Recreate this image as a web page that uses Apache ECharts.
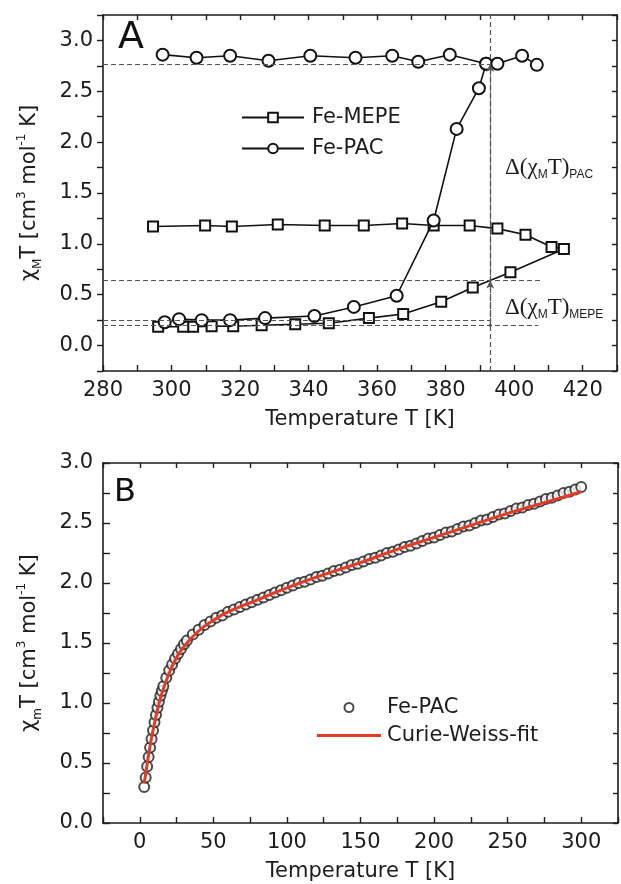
<!DOCTYPE html>
<html>
<head>
<meta charset="utf-8">
<script src="https://cdn.jsdelivr.net/npm/echarts@6/dist/echarts.min.js"></script>
<style>
html, body { margin: 0; padding: 0; background: #fff; }
#chart { width: 621px; height: 884px; }
</style>
</head>
<body>
<div id="chart"></div>
<script>
// ---- panel A : chi_M T vs T, heating/cooling runs ----
var mepeT   = [294.6, 309.8, 317.6, 331.0, 344.7, 356.1, 367.3, 376.5, 387.0, 395.1, 403.3, 410.9, 414.5,
               398.9, 387.9, 378.7, 367.6, 357.6, 345.9, 336.1, 326.3, 318.0, 311.7, 306.3, 303.4, 296.1];
var mepeChi = [1.17, 1.18, 1.17, 1.19, 1.18, 1.18, 1.20, 1.18, 1.18, 1.15, 1.09, 0.97, 0.95,
               0.72, 0.57, 0.43, 0.31, 0.27, 0.22, 0.21, 0.20, 0.19, 0.19, 0.185, 0.185, 0.185];

var pacRiseT   = [298.0, 302.2, 308.8, 317.1, 327.3, 341.7, 353.2, 365.7, 376.5, 383.2, 389.7, 391.8];
var pacRiseChi = [0.23, 0.26, 0.25, 0.25, 0.27, 0.29, 0.38, 0.49, 1.23, 2.13, 2.53, 2.77];

var pacTopT   = [297.4, 307.3, 317.1, 328.3, 340.5, 353.7, 364.4, 372.0, 381.2, 391.8, 395.1, 402.3, 406.6];
var pacTopChi = [2.86, 2.83, 2.85, 2.80, 2.85, 2.83, 2.85, 2.79, 2.86, 2.77, 2.77, 2.85, 2.76];

// dashed guide lines (level, end temperature) and transition temperature
var guideLevels = [2.77, 0.64, 0.25, 0.20];
var guideEnds   = [393, 408, 393, 407];
var transT = 393;

// ---- panel B : Fe-PAC low temperature data + Curie-Weiss fit ----
var lowT = [3, 4, 5, 6, 7, 8, 9, 10, 11, 12, 13, 14, 15, 16, 18, 20, 22, 24, 26, 28, 30, 32, 36, 40, 44, 48,
            52, 56, 60, 64, 68, 72, 76, 80, 84, 88, 92, 96, 100, 104, 108, 112, 116, 120, 124, 128, 132,
            136, 140, 144, 148, 152, 156, 160, 164, 168, 172, 176, 180, 184, 188, 192, 196, 200, 204,
            208, 212, 216, 220, 224, 228, 232, 236, 240, 244, 248, 252, 256, 260, 264, 268, 272, 276,
            280, 284, 288, 292, 296, 300];
var lowChi = [0.30, 0.38, 0.47, 0.55, 0.63, 0.70, 0.77, 0.84, 0.90, 0.96, 1.01, 1.06, 1.10, 1.14, 1.21, 1.27,
              1.32, 1.37, 1.41, 1.45, 1.49, 1.52, 1.57, 1.61, 1.65, 1.68, 1.71, 1.73, 1.76, 1.78, 1.80,
              1.82, 1.84, 1.86, 1.88, 1.90, 1.92, 1.94, 1.96, 1.98, 2.00, 2.01, 2.03, 2.05, 2.06, 2.08,
              2.10, 2.11, 2.13, 2.15, 2.16, 2.18, 2.20, 2.21, 2.23, 2.25, 2.26, 2.28, 2.30, 2.31, 2.33,
              2.35, 2.37, 2.38, 2.40, 2.42, 2.43, 2.45, 2.47, 2.48, 2.50, 2.52, 2.53, 2.55, 2.57, 2.58,
              2.60, 2.62, 2.63, 2.65, 2.66, 2.68, 2.70, 2.71, 2.73, 2.75, 2.76, 2.78, 2.80];

var fitT   = [3, 4, 5, 6, 8, 10, 12, 15, 20, 25, 30, 40, 50, 60, 80, 100, 125, 150, 175, 200, 225, 250, 275, 300];
var fitChi = [0.33, 0.41, 0.49, 0.57, 0.71, 0.83, 0.94, 1.08, 1.25, 1.38, 1.47, 1.60, 1.69, 1.76, 1.86,
              1.96, 2.07, 2.17, 2.28, 2.38, 2.48, 2.58, 2.67, 2.76];

function zip(xs, ys) {
    var out = [];
    for (var i = 0; i < xs.length; i++) out.push([xs[i], ys[i]]);
    return out;
}

var FONT = 'DejaVu Sans';
var INK = '#1c1c1c';
var RED = '#e23b26';

function showEvery(step, lo, hi, digits) {
    return function (v) {
        var k = v / step;
        if (Math.abs(k - Math.round(k)) > 1e-6 || v < lo - 1e-6 || v > hi + 1e-6) return '';
        return digits ? v.toFixed(digits) : String(Math.round(v));
    };
}

function frameAxis(extra) {
    var a = {
        type: 'value',
        axisLine: { show: true, onZero: false, lineStyle: { color: INK, width: 1.6 } },
        axisTick: { show: true, inside: true, length: 5, lineStyle: { color: INK, width: 1.4 } },
        axisLabel: { show: false },
        splitLine: { show: false }
    };
    for (var k in extra) a[k] = extra[k];
    return a;
}

var yNameRich = {
    t:  { fontFamily: FONT, fontSize: 21, color: INK, lineHeight: 28, verticalAlign: 'middle' },
    sp: { fontFamily: FONT, fontSize: 12, color: INK, lineHeight: 12, verticalAlign: 'top' },
    sb: { fontFamily: FONT, fontSize: 12, color: INK, lineHeight: 12, verticalAlign: 'bottom' }
};

var annoRich = {
    a: { fontFamily: 'Liberation Serif', fontSize: 23, fill: INK, lineHeight: 27, verticalAlign: 'middle' },
    s: { fontFamily: 'Liberation Sans', fontSize: 12, fill: INK, lineHeight: 12, verticalAlign: 'bottom' }
};

var labelStyle = { fontFamily: FONT, fontSize: 21, color: INK };

var guideData = [];
for (var i = 0; i < guideLevels.length; i++) {
    guideData.push([{ coord: [280, guideLevels[i]] }, { coord: [guideEnds[i], guideLevels[i]] }]);
}
guideData.push([{ coord: [transT, -0.25] }, { coord: [transT, 3.25] }]);
// arrows marking the two spin-transition steps
guideData.push([{ coord: [transT, guideLevels[3]], symbol: 'circle', symbolSize: 3 },
                { coord: [transT, guideLevels[1]], symbol: 'arrow', symbolSize: [6, 8] }]);
guideData.push([{ coord: [transT, guideLevels[1]], symbol: 'none' },
                { coord: [transT, guideLevels[0]], symbol: 'arrow', symbolSize: [6, 8] }]);

var chart = echarts.init(document.getElementById('chart'));
var option = {
    animation: false,
    grid: [
        { left: 103, top: 15, width: 514, height: 356 },
        { left: 103, top: 463, width: 521, height: 360 }
    ],
    legend: [{
        data: ['Fe-MEPE', 'Fe-PAC'],
        orient: 'vertical',
        left: 236, top: 102,
        itemWidth: 62, itemHeight: 12, itemGap: 10,
        selectedMode: false,
        textStyle: { fontFamily: FONT, fontSize: 21, color: INK, padding: [0, 0, 0, 3] }
    }, {
        data: ['Fe-PAC_B', { name: 'Curie-Weiss-fit', icon: 'path://M0,0 L64,0 L64,3 L0,3 Z' }],
        orient: 'vertical',
        left: 312, top: 692,
        itemWidth: 64, itemHeight: 9, itemGap: 7,
        selectedMode: false,
        formatter: function (n) { return n.replace('_B', ''); },
        textStyle: { fontFamily: FONT, fontSize: 21, color: INK, padding: [0, 0, 0, 1] }
    }],
    xAxis: [
        frameAxis({
            gridIndex: 0, min: 280, max: 430, interval: 10,
            axisTick: { show: true, inside: true, length: 6, lineStyle: { color: INK, width: 1.4 } },
            axisLabel: { show: true, margin: 9, formatter: showEvery(20, 280, 420, 0),
                         fontFamily: FONT, fontSize: 21, color: INK },
            name: 'Temperature T [K]', nameLocation: 'middle', nameGap: 38, nameTextStyle: labelStyle
        }),
        frameAxis({ gridIndex: 0, position: 'top', min: 280, max: 430, interval: 10 }),
        frameAxis({
            gridIndex: 1, min: -25, max: 325, interval: 25,
            axisTick: { show: true, inside: true, length: 6, lineStyle: { color: INK, width: 1.4 } },
            axisLabel: { show: true, margin: 9, formatter: showEvery(50, 0, 300, 0),
                         fontFamily: FONT, fontSize: 21, color: INK },
            name: 'Temperature T [K]', nameLocation: 'middle', nameGap: 38, nameTextStyle: labelStyle
        }),
        frameAxis({ gridIndex: 1, position: 'top', min: -25, max: 325, interval: 25 })
    ],
    yAxis: [
        frameAxis({
            gridIndex: 0, min: -0.25, max: 3.25, interval: 0.25,
            axisTick: { show: true, inside: false, length: 6, lineStyle: { color: INK, width: 1.4 } },
            axisLabel: { show: true, margin: 10, formatter: showEvery(0.5, 0, 3, 1),
                         fontFamily: FONT, fontSize: 21, color: INK },
            name: '{t|χ}{sb|M}{t|T [cm}{sp|3}{t| mol}{sp|-1}{t| K]}',
            nameLocation: 'middle', nameRotate: 90, nameGap: 59,
            nameTextStyle: { rich: yNameRich }
        }),
        frameAxis({ gridIndex: 0, position: 'right', min: -0.25, max: 3.25, interval: 0.25 }),
        frameAxis({
            gridIndex: 1, min: 0, max: 3, interval: 0.25,
            axisTick: { show: true, inside: true, length: 7, lineStyle: { color: INK, width: 1.4 } },
            axisLabel: { show: true, margin: 10, formatter: showEvery(0.5, 0, 3, 1),
                         fontFamily: FONT, fontSize: 21, color: INK },
            name: '{t|χ}{sb|m}{t|T [cm}{sp|3}{t| mol}{sp|-1}{t| K]}',
            nameLocation: 'middle', nameRotate: 90, nameGap: 59,
            nameTextStyle: { rich: yNameRich }
        }),
        frameAxis({ gridIndex: 1, position: 'right', min: 0, max: 3, interval: 0.25 })
    ],
    series: [
        {
            name: 'Fe-MEPE', type: 'line', xAxisIndex: 0, yAxisIndex: 0,
            data: zip(mepeT, mepeChi),
            symbol: 'emptyRect', symbolSize: 10,
            itemStyle: { color: '#111', borderWidth: 1.6 },
            lineStyle: { color: '#111', width: 1.6 },
            z: 3,
            markLine: {
                silent: true, symbol: 'none',
                label: { show: false },
                lineStyle: { color: '#555', type: [5, 3], width: 1.2 },
                data: guideData
            }
        },
        {
            name: 'Fe-PAC', type: 'line', xAxisIndex: 0, yAxisIndex: 0,
            data: zip(pacRiseT, pacRiseChi),
            symbol: 'emptyCircle', symbolSize: 12,
            itemStyle: { color: '#111', borderWidth: 1.6 },
            lineStyle: { color: '#111', width: 1.6 },
            z: 4
        },
        {
            name: 'Fe-PAC', type: 'line', xAxisIndex: 0, yAxisIndex: 0,
            data: zip(pacTopT, pacTopChi),
            symbol: 'emptyCircle', symbolSize: 12,
            itemStyle: { color: '#111', borderWidth: 1.6 },
            lineStyle: { color: '#111', width: 1.6 },
            z: 4
        },
        {
            name: 'Fe-PAC_B', type: 'scatter', xAxisIndex: 2, yAxisIndex: 2,
            data: zip(lowT, lowChi),
            symbol: 'emptyCircle', symbolSize: 10,
            itemStyle: { color: '#1e1e1e', borderWidth: 1.6 }
        },
        {
            name: 'Curie-Weiss-fit', type: 'line', xAxisIndex: 2, yAxisIndex: 2,
            data: zip(fitT, fitChi),
            smooth: true, showSymbol: false, symbol: 'none',
            itemStyle: { color: RED },
            lineStyle: { color: RED, width: 3 },
            z: 5
        }
    ],
    graphic: [
        { type: 'text', left: 118, top: 19, style: { text: 'A', fontFamily: FONT, fontSize: 38, fill: '#111' } },
        { type: 'text', left: 114, top: 477, style: { text: 'B', fontFamily: FONT, fontSize: 32, fill: '#111' } },
        { type: 'text', left: 505, top: 156, style: { text: '{a|Δ(χ}{s|M}{a|T)}{s|PAC}', rich: annoRich } },
        { type: 'text', left: 505, top: 296, style: { text: '{a|Δ(χ}{s|M}{a|T)}{s|MEPE}', rich: annoRich } }
    ]
};
chart.setOption(option);
</script>
</body>
</html>
